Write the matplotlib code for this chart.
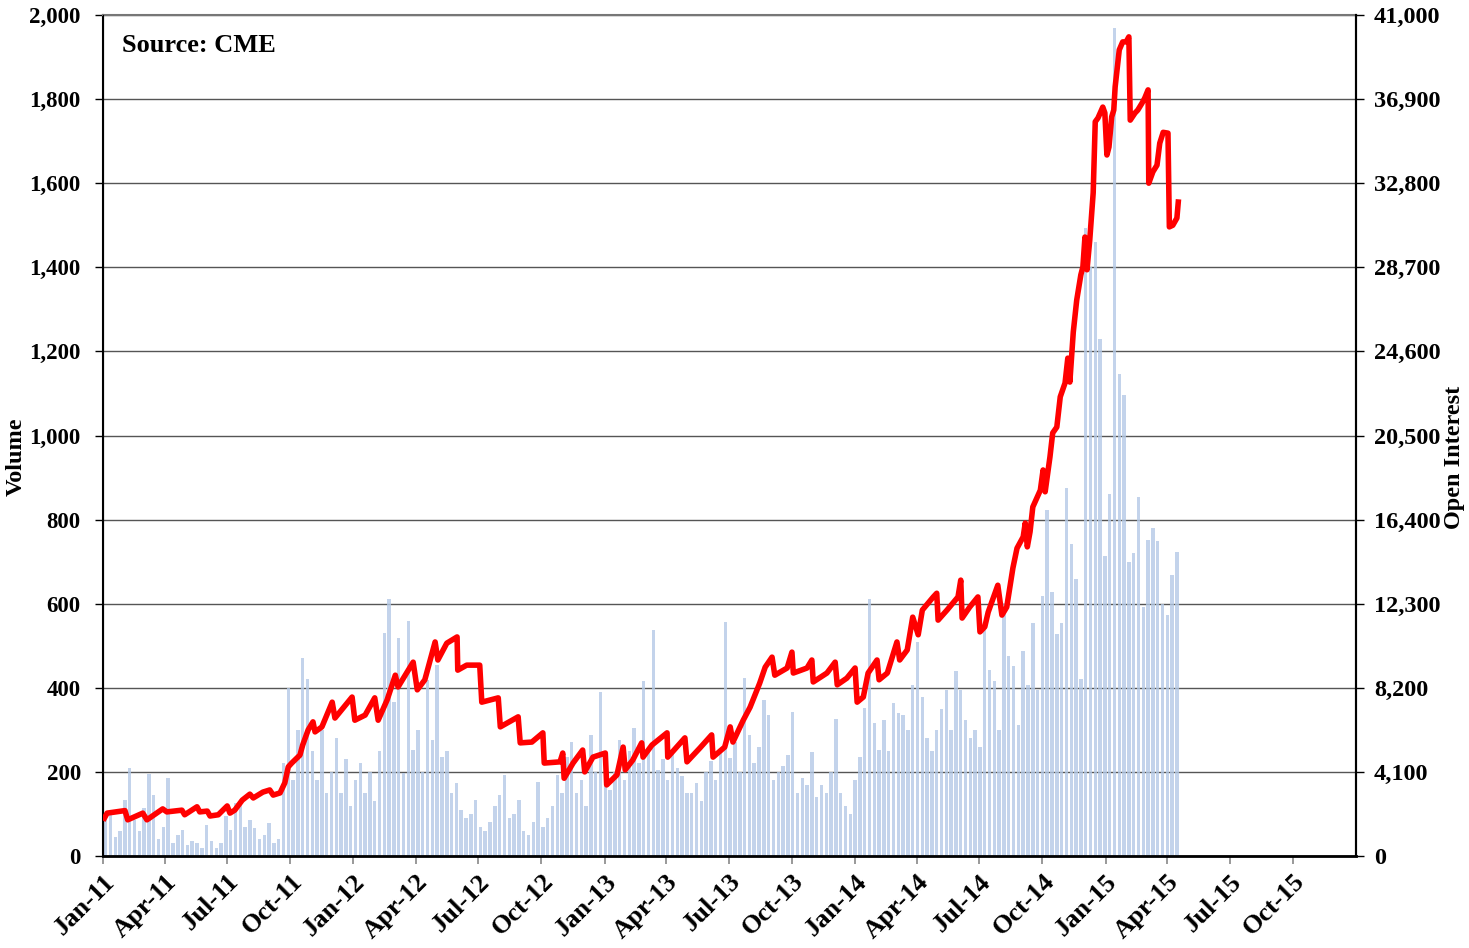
import matplotlib
matplotlib.use("Agg")
import matplotlib.pyplot as plt
from matplotlib.ticker import FuncFormatter
import pandas as pd

# ---------------- data ----------------
# weekly trading volume (one value per week, starting week of 3 Jan 2011)
volume_week_start = "2011-01-05"
volume = [
    98, 106, 46, 60, 134, 210, 86, 60, 114, 196, 146, 40, 70,
    186, 30, 50, 62, 25, 35, 30, 20, 74, 35, 20, 30, 94,
    62, 126, 130, 70, 86, 66, 40, 50, 78, 30, 40, 222, 400,
    180, 300, 470, 420, 250, 180, 300, 150, 200, 280, 150, 230, 120,
    180, 220, 150, 200, 130, 250, 530, 611, 367, 518, 197, 560, 252,
    300, 200, 419, 276, 455, 236, 250, 150, 173, 110, 90, 100, 133,
    70, 60, 80, 120, 145, 193, 90, 100, 133, 60, 50, 80, 177,
    70, 90, 120, 193, 150, 236, 272, 150, 180, 120, 288, 200, 391,
    200, 157, 200, 276, 180, 250, 304, 220, 415, 260, 538, 205, 230,
    180, 244, 210, 190, 150, 149, 173, 130, 200, 225, 180, 250, 556,
    232, 272, 200, 423, 288, 220, 260, 371, 335, 180, 200, 213, 240,
    342, 150, 185, 170, 248, 140, 169, 150, 200, 325, 150, 120, 100,
    180, 236, 352, 611, 316, 252, 324, 250, 363, 340, 336, 300, 407,
    508, 379, 280, 250, 300, 350, 395, 300, 441, 395, 324, 280, 300,
    260, 538, 443, 415, 300, 602, 475, 451, 312, 487, 407, 554, 395,
    618, 824, 627, 529, 554, 876, 743, 659, 420, 1494, 1401, 1459, 1229,
    713, 860, 1968, 1147, 1096, 700, 720, 854, 592, 752, 781, 748, 599,
    573, 669, 722,
]

# open interest
oi_dates = [
    "2011-01-03", "2011-01-07", "2011-02-02", "2011-02-06", "2011-02-28", "2011-03-06",
    "2011-03-29", "2011-04-04", "2011-04-26", "2011-04-30", "2011-05-18", "2011-05-22",
    "2011-06-02", "2011-06-06", "2011-06-18", "2011-07-01", "2011-07-05", "2011-07-12",
    "2011-07-23", "2011-08-03", "2011-08-08", "2011-08-22", "2011-09-01", "2011-09-06",
    "2011-09-16", "2011-09-23", "2011-09-28", "2011-10-03", "2011-10-15", "2011-10-19",
    "2011-10-27", "2011-11-03", "2011-11-06", "2011-11-16", "2011-12-01", "2011-12-05",
    "2011-12-12", "2011-12-30", "2012-01-03", "2012-01-18", "2012-02-01", "2012-02-06",
    "2012-02-19", "2012-03-02", "2012-03-06", "2012-03-28", "2012-04-03", "2012-04-14",
    "2012-04-29", "2012-05-03", "2012-05-16", "2012-05-31", "2012-06-01", "2012-06-14",
    "2012-07-03", "2012-07-06", "2012-07-30", "2012-08-02", "2012-08-28", "2012-08-31",
    "2012-09-17", "2012-10-03", "2012-10-05", "2012-10-28", "2012-11-01", "2012-11-03",
    "2012-11-16", "2012-11-30", "2012-12-03", "2012-12-15", "2013-01-02", "2013-01-04",
    "2013-01-19", "2013-01-28", "2013-01-31", "2013-02-11", "2013-02-24", "2013-02-26",
    "2013-03-11", "2013-04-02", "2013-04-03", "2013-04-28", "2013-05-01", "2013-05-20",
    "2013-06-06", "2013-06-08", "2013-06-25", "2013-07-03", "2013-07-07", "2013-07-22",
    "2013-08-01", "2013-08-15", "2013-08-23", "2013-09-02", "2013-09-06", "2013-09-24",
    "2013-10-01", "2013-10-03", "2013-10-23", "2013-10-30", "2013-11-01", "2013-11-21",
    "2013-12-03", "2013-12-06", "2013-12-20", "2014-01-01", "2014-01-04", "2014-01-13",
    "2014-01-20", "2014-02-02", "2014-02-05", "2014-02-17", "2014-03-03", "2014-03-07",
    "2014-03-18", "2014-03-26", "2014-04-03", "2014-04-09", "2014-04-25", "2014-04-30",
    "2014-05-02", "2014-05-15", "2014-05-31", "2014-06-04", "2014-06-06", "2014-06-17",
    "2014-06-29", "2014-07-02", "2014-07-09", "2014-07-14", "2014-07-28", "2014-08-03",
    "2014-08-10", "2014-08-19", "2014-08-25", "2014-09-03", "2014-09-06", "2014-09-09",
    "2014-09-13", "2014-09-17", "2014-09-28", "2014-10-02", "2014-10-05", "2014-10-12",
    "2014-10-16", "2014-10-22", "2014-10-27", "2014-11-03", "2014-11-07", "2014-11-10",
    "2014-11-15", "2014-11-20", "2014-11-26", "2014-11-29", "2014-12-02", "2014-12-05",
    "2014-12-09", "2014-12-14", "2014-12-17", "2014-12-21", "2014-12-28", "2014-12-31",
    "2015-01-03", "2015-01-06", "2015-01-10", "2015-01-13", "2015-01-15", "2015-01-21",
    "2015-01-26", "2015-01-31", "2015-02-04", "2015-02-06", "2015-02-13", "2015-02-17",
    "2015-02-23", "2015-02-27", "2015-03-04", "2015-03-05", "2015-03-11", "2015-03-17",
    "2015-03-21", "2015-03-26", "2015-04-02", "2015-04-04", "2015-04-09", "2015-04-15",
    "2015-04-17",
]
open_interest = [
    1845, 2090, 2214, 1763, 2090, 1763,
    2296, 2150, 2235, 2010, 2400, 2150,
    2190, 1950, 2010, 2440, 2090, 2235,
    2725, 3015, 2830, 3115, 3220, 2970,
    3075, 3570, 4345, 4530, 4920, 5410,
    6150, 6540, 6050, 6295, 7500, 6725,
    7010, 7750, 6620, 6870, 7710, 6620,
    7605, 8815, 8240, 9450, 8100, 8590,
    10435, 9555, 10375, 10680, 9060, 9305,
    9305, 7500, 7710, 6295, 6785, 5515,
    5555, 6005, 4530, 4590, 5020, 3790,
    4530, 5165, 4100, 4820, 5020, 3465,
    3955, 5310, 4200, 4675, 5515, 4820,
    5410, 6005, 4820, 5760, 4590, 5270,
    5905, 4820, 5310, 6295, 5555, 6620,
    7255, 8425, 9205, 9695, 8815, 9165,
    9940, 8920, 9165, 9555, 8485, 8920,
    9450, 8345, 8670, 9165, 7500, 7750,
    8920, 9555, 8590, 8920, 10435, 9555,
    10045, 11645, 10785, 11990, 12630, 12810,
    11500, 11990, 12630, 13450, 11600, 12135,
    12630, 10925, 11170, 11890, 13200, 11745,
    12135, 14040, 15005, 15560, 16235, 15070,
    15805, 17015, 17835, 18820, 17755, 19455,
    20625, 20910, 22385, 23060, 24270, 23105,
    25545, 27100, 28330, 28720, 30175, 28580,
    30030, 32330, 35795, 35980, 36510, 36225,
    34175, 34565, 36040, 36365, 37495, 39300,
    39690, 39690, 39935, 35875, 36225, 36365,
    36695, 36940, 37350, 32800, 33355, 33680,
    34750, 35280, 35240, 30670, 30750, 31100,
    31880,
]

left_ticks = list(range(0, 2001, 200))
right_ticks = list(range(0, 41001, 4100))
quarter_ticks = pd.date_range("2011-01-01", "2015-10-01", freq="QS")

# ---------------- plot ----------------
plt.rcParams["font.family"] = ["Liberation Serif", "DejaVu Serif"]
plt.rcParams["font.weight"] = "bold"

fig = plt.figure(figsize=(14.69, 9.48), dpi=100)
ax = fig.add_axes([103 / 1469, 1 - 856 / 948, (1356 - 103) / 1469, (856 - 15) / 948])

vol_dates = pd.date_range(volume_week_start, periods=len(volume), freq="7D")
ax.bar(vol_dates, volume, width=5.0, color="#B4C9E6", alpha=0.8, linewidth=0, zorder=2)

ax.set_xlim(pd.Timestamp("2011-01-01"), pd.Timestamp("2016-01-01"))
ax.set_ylim(0, 2000)
ax.set_yticks(left_ticks)
ax.yaxis.set_major_formatter(FuncFormatter(lambda v, p: f"{int(v):,}"))
ax.grid(axis="y", color="#555555", linewidth=1.0, zorder=1)
ax.set_axisbelow(True)

ax.set_xticks(quarter_ticks)
ax.set_xticklabels([d.strftime("%b-%y") for d in quarter_ticks])
for lab in ax.get_xticklabels():
    lab.set_rotation(45)
    lab.set_ha("right")
    lab.set_va("top")
    lab.set_rotation_mode("anchor")
ax.tick_params(axis="x", length=6, width=1.2, color="#888888", labelsize=19, pad=4)
ax.tick_params(axis="y", length=6, width=1.0, labelsize=16.5, pad=10, direction="out")

for side in ["left", "right"]:
    ax.spines[side].set_color("black")
    ax.spines[side].set_linewidth(1.5)
ax.spines["bottom"].set_color("black")
ax.spines["bottom"].set_linewidth(2.0)
ax.spines["top"].set_color("#777777")
ax.spines["top"].set_linewidth(1.5)

ax.set_ylabel("Volume", fontsize=17.5, fontweight="bold")
ax.yaxis.set_label_coords(-0.0607, 0.4744)

ax2 = ax.twinx()
ax2.plot(pd.to_datetime(oi_dates), open_interest, color="#FF0000", linewidth=4.0,
         solid_joinstyle="round", zorder=5)
ax2.set_ylim(0, 41000)
ax2.set_yticks(right_ticks)
ax2.yaxis.set_major_formatter(FuncFormatter(lambda v, p: f"{int(v):,}"))
ax2.tick_params(axis="y", length=6, width=1.0, labelsize=17.5, pad=7, direction="out")
ax2.spines["top"].set_visible(False)
ax2.spines["right"].set_color("black")
ax2.spines["right"].set_linewidth(1.5)
ax2.set_ylabel("Open Interest", fontsize=17.5, fontweight="bold")
ax2.yaxis.set_label_coords(1.0702, 0.4744)

ax.text(0.0152, (856 - 52) / 841, "Source: CME", transform=ax.transAxes, fontsize=19,
        fontweight="bold", ha="left", va="baseline")

fig.savefig("out.png", dpi=100)
